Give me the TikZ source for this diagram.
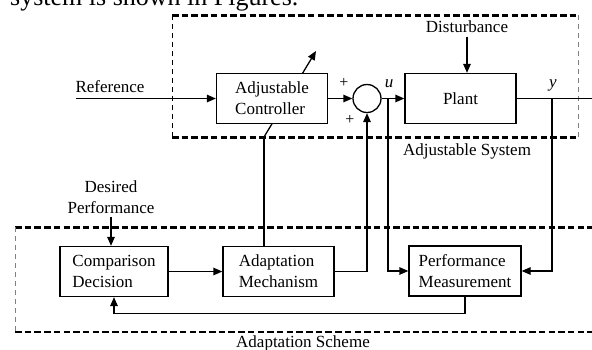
\documentclass[tikz,border=0pt]{standalone}
\usepackage{fontspec}
\setmainfont{Liberation Serif}
\usetikzlibrary{arrows.meta}

\begin{document}
\begin{tikzpicture}[x=1pt,y=-1pt,
	font=\fontsize{17}{21}\selectfont,
	block/.style={draw,line width=1.3pt,fill=white,minimum width=111pt,minimum height=50pt,inner sep=2pt},
	arr/.style={line width=1.3pt,-{Triangle[length=9pt,width=7.5pt]}},
	conn/.style={line width=1.3pt},
	bigdash/.style={line width=3pt,dash pattern=on 6.5pt off 3.2pt},
	thindash/.style={line width=1pt,dash pattern=on 5pt off 4pt}]
			\useasboundingbox (0,0) rectangle (592,349);
			\clip (0,0) rectangle (592,349);
			% Dòng chữ phía trên
			\node [anchor=base west,inner sep=0pt,font=\fontsize{26}{30}\selectfont] (cap) at (10,5) {system is shown in Figures.};
			% Vẽ khung nét đứt
			\draw [bigdash] (172,15) -- (578,15);
			\draw [bigdash] (172,137) -- (578,137);
			\draw [thindash] (172,15) -- (172,137);
			\draw [thindash,gray] (578,15) -- (578,137);
			\draw [bigdash] (15,227) -- (600,227);
			\draw [bigdash,line width=2.3pt] (15,332) -- (600,332);
			\draw [thindash,gray] (15,227) -- (15,332);
			\node (adjlbl) at (467,151) {Adjustable System};
			\node (schlbl) at (303,343) {Adaptation Scheme};
			% Mũi tên chỉnh bộ điều khiển
			\coordinate (knee) at (264,137);
			\coordinate (tip) at (316,51);
			\draw [arr] (knee) -- (tip);
			% Vẽ các khối
			\node [block,align=left] (ctrl) at (272,98.5) {Adjustable\\Controller};
			\node [circle,draw,line width=1.3pt,minimum size=28pt,inner sep=0pt] (sum) at (367,98.5) {};
			\node [block] (plant) at (460.5,98.5) {Plant};
			\node [block,align=left,minimum width=108pt] (cmp) at (114,271.5) {Comparison\\Decision};
			\node [block,align=left] (adapt) at (278.5,271.5) {Adaptation\\Mechanism};
			\node [block,align=left,minimum width=112pt] (perf) at (465,271) {Performance\\Measurement};
			% Nhãn
			\node (reflbl) at (110,87) {Reference};
			\node (dist) at (467,27) {Disturbance};
			\node [align=center] (des) at (111,197) {Desired\\Performance};
			\node [font=\fontsize{16}{18}\selectfont] (pl1) at (344,83) {+};
			\node [font=\fontsize{16}{18}\selectfont] (pl2) at (350,120) {+};
			\node (ulbl) at (389,84) {\textit{u}};
			\node (ylbl) at (553,85) {\textit{y}};
			% Vẽ đường nối
			\coordinate (refin) at (76,98.5);
			\coordinate (ubr) at (388,98.5);
			\coordinate (ybr) at (552,98.5);
			\coordinate (out) at (592,98.5);
			\draw [arr] (refin) -- (ctrl.west);
			\draw [arr] (ctrl.east) -- (sum.west);
			\draw [arr] (sum.east) -- (plant.west);
			\draw [conn] (plant.east) -- (out);
			\draw [arr] (dist.south) -- (dist.south |- plant.north);
			\draw [arr] (des.south) -- (des.south |- cmp.north);
			\draw [arr] (cmp.east) -- (adapt.west);
			\draw [arr] (adapt.east) -| (sum.south);
			\draw [conn] (adapt.north -| knee) -- (knee);
			\draw [arr] (ubr) |- (perf.west);
			\draw [arr] (ybr) |- (perf.east);
			\draw [arr] (perf.south) -- ++(0,17) -| (cmp.south);
\end{tikzpicture}
\end{document}
